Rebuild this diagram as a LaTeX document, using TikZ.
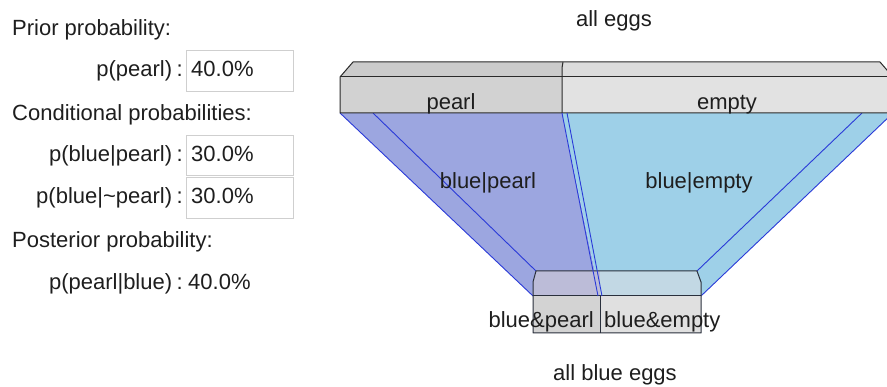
\documentclass[tikz,border=0pt]{standalone}
\usepackage{fontspec}
\setmainfont{Liberation Sans}
\definecolor{txt}{HTML}{1E1E1E}
\definecolor{edgegray}{HTML}{2A2A2A}
\definecolor{edgenavy}{HTML}{2A303C}
\definecolor{lineblue}{HTML}{2A3AD8}
\definecolor{pearlblue}{HTML}{9CA6E0}
\definecolor{emptyblue}{HTML}{9ED0E8}
\definecolor{topL}{HTML}{CBCBCB}
\definecolor{topR}{HTML}{DCDCDC}
\definecolor{frontL}{HTML}{D2D2D2}
\definecolor{frontR}{HTML}{E2E2E2}
\definecolor{bTopL}{HTML}{BCBCD8}
\definecolor{bTopR}{HTML}{C2D8E4}
\definecolor{bFrontL}{HTML}{D3D3D3}
\definecolor{bFrontR}{HTML}{E0E0E0}
\definecolor{boxgray}{HTML}{CFCFCF}
\newcommand{\colsep}{\hspace{4.5pt}:}
\begin{document}
\begin{tikzpicture}[x=1pt,y=-1pt,
  font=\fontsize{22}{26}\selectfont,
  lbl/.style={inner sep=0pt, text=txt},
  inbox/.style={draw=boxgray, fill=white, line width=0.8pt, inner sep=0pt, anchor=north west},
  edgeline/.style={draw=edgegray, line width=1pt, line join=round},
  navyline/.style={draw=edgenavy, line width=1pt, line join=round},
  blueline/.style={draw=lineblue, line width=0.9pt}]
\useasboundingbox (0,0) rectangle (887,387);
\fill[white] (0,0) rectangle (887,387);
\clip (0,0) rectangle (887,387);

% ---------- left panel ----------
\node[lbl, anchor=base west] (prior) at (12,36) {Prior probability:};
\node[inbox, minimum width=107pt, minimum height=41pt] (box1) at (186,50) {};
\node[lbl, anchor=base east] (ppearl) at (183,77) {p(pearl)\colsep};
\node[lbl, anchor=base west] (v1) at (191,77) {40.0\%};

\node[lbl, anchor=base west] (cond) at (12,121) {Conditional probabilities:};
\node[inbox, minimum width=107pt, minimum height=40pt] (box2) at (186,135) {};
\node[lbl, anchor=base east] (pbp) at (183,162) {p(blue|pearl)\colsep};
\node[lbl, anchor=base west] (v2) at (191,162) {30.0\%};
\node[inbox, minimum width=107pt, minimum height=41pt] (box3) at (186,177) {};
\node[lbl, anchor=base east] (pbnp) at (183,204) {p(blue|\textasciitilde pearl)\colsep};
\node[lbl, anchor=base west] (v3) at (191,204) {30.0\%};

\node[lbl, anchor=base west] (post) at (12,248) {Posterior probability:};
\node[lbl, anchor=base east] (ppb) at (183,290) {p(pearl|blue)\colsep};
\node[lbl, anchor=base west] (v4) at (188,290) {40.0\%};

% ---------- funnel coordinates ----------
\coordinate (TL) at (340,113);
\coordinate (TM) at (562,113);
\coordinate (TR) at (893,113);
\coordinate (BL) at (533,296);
\coordinate (BM) at (600,296);
\coordinate (BR) at (701,296);

% funnel fills
\fill[pearlblue] (TL) -- (TM) -- (BM) -- (BL) -- cycle;
\fill[emptyblue] (TM) -- (TR) -- (BR) -- (BM) -- cycle;
% funnel lines
\draw[blueline] (TL) -- (BL);
\draw[blueline] (373,113) -- (536,271);
\draw[blueline] (TR) -- (BR);
\draw[blueline] (862,113) -- (697,271);

% ---------- top box ----------
\fill[topL] (353,62) -- (562,62) -- (562,77) -- (340,77) -- cycle;
\fill[topR] (562,62) -- (880,62) -- (893,77) -- (562,77) -- cycle;
\fill[frontL] (340,77) rectangle (562,113);
\fill[frontR] (562,77) rectangle (893,113);
\draw[edgeline] (353,62) -- (880,62) -- (893,77) -- (893,113) -- (340,113) -- (340,77) -- cycle;
\draw[edgeline] (340,77) -- (893,77);
\draw[edgeline] (563,62) -- (562,68) -- (562,113);

% ---------- bottom box ----------
\fill[bTopL] (536,271) -- (600,271) -- (600,296) -- (533,296) -- (533,282) -- cycle;
\fill[bTopR] (600,271) -- (697,271) -- (701,282) -- (701,296) -- (600,296) -- cycle;
\fill[bFrontL] (533,296) rectangle (600,333);
\fill[bFrontR] (600,296) rectangle (701,333);
\draw[navyline] (536,271) -- (697,271) -- (701,282) -- (701,333) -- (533,333) -- (533,282) -- cycle;
\draw[navyline] (533,296) -- (701,296);
\draw[navyline] (600,296) -- (600,333);

% double divider between the two blue regions
\draw[blueline] (562,113) -- (598,296);
\draw[blueline] (567,113) -- (602,296);

% ---------- funnel labels ----------
\node[lbl, anchor=base] (alleggs) at (614,27) {all eggs};
\node[lbl, anchor=base] (pearl) at (451,110) {pearl};
\node[lbl, anchor=base] (empty) at (727,110) {empty};
\node[lbl, anchor=base] (bp) at (488,189) {blue|pearl};
\node[lbl, anchor=base] (be) at (699,189) {blue|empty};
\node[lbl, anchor=base east] (bandp) at (594,328) {blue\&pearl};
\node[lbl, anchor=base west] (bande) at (604,328) {blue\&empty};
\node[lbl, anchor=base] (allblue) at (615,381) {all blue eggs};
\end{tikzpicture}
\end{document}
